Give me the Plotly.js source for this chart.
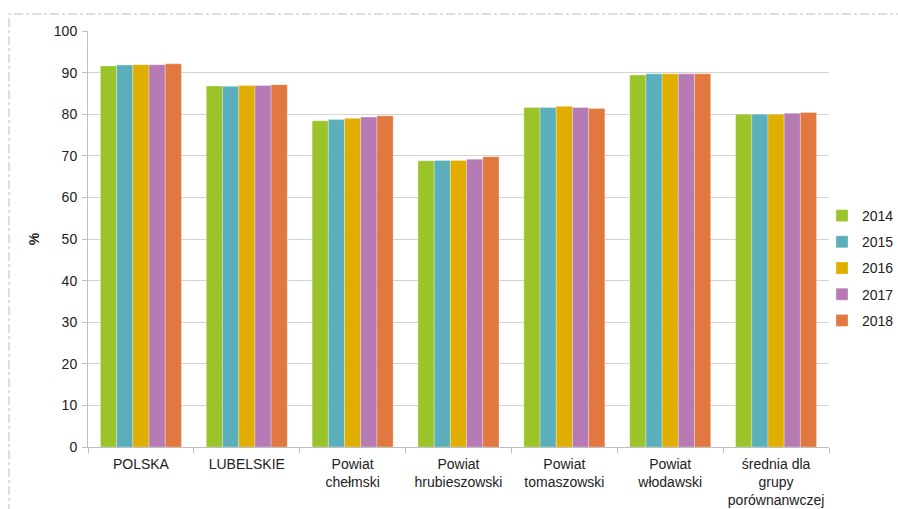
<!DOCTYPE html>
<html>
<head>
<meta charset="utf-8">
<script src="https://cdn.plot.ly/plotly-3.0.1.min.js"></script>
<style>
html,body{margin:0;padding:0;background:#fff;}
#chart{width:898px;height:509px;}
</style>
</head>
<body>
<div id="chart"></div>
<script>
const categories = ["POLSKA", "LUBELSKIE", "Powiat<br>chełmski", "Powiat<br>hrubieszowski", "Powiat<br>tomaszowski", "Powiat<br>włodawski", "średnia dla<br>grupy<br>porównanwczej"];
const years = ["2014", "2015", "2016", "2017", "2018"];
const v2014 = [91.6, 86.8, 78.4, 68.8, 81.6, 89.4, 80.0];
const v2015 = [91.8, 86.7, 78.7, 68.9, 81.6, 89.7, 80.0];
const v2016 = [91.9, 86.9, 79.0, 68.9, 81.9, 89.7, 80.0];
const v2017 = [91.9, 86.9, 79.3, 69.2, 81.6, 89.7, 80.2];
const v2018 = [92.1, 87.1, 79.6, 69.8, 81.4, 89.7, 80.4];
const colors = ["#9BC42A", "#5AAFBA", "#E0AE00", "#B67AB4", "#E07840"];
const yTicks = [0, 10, 20, 30, 40, 50, 60, 70, 80, 90, 100];

const series = [v2014, v2015, v2016, v2017, v2018];
const traces = series.map((vals, i) => ({
  type: "bar",
  name: years[i],
  x: categories,
  y: vals,
  legendgroup: years[i],
  marker: {color: colors[i], line: {color: "rgba(255,255,255,0.5)", width: 0.6}},
  hoverinfo: "x+y+name"
}));

const L = 88, R = 829, T = 31, B = 447;
const W = R - L, H = B - T;

const layout = {
  width: 898, height: 509,
  margin: {l: L, r: 898 - R, t: T, b: 509 - B, autoexpand: false},
  paper_bgcolor: "#ffffff",
  plot_bgcolor: "#ffffff",
  font: {family: "Liberation Sans, Arial, sans-serif", size: 14, color: "#222222"},
  barmode: "group",
  bargap: 0.235,
  bargroupgap: 0,
  showlegend: true,
  legend: {
    x: (822 - L) / W, xanchor: "left",
    y: (B - 200) / H, yanchor: "top",
    font: {size: 14, color: "#222222"},
    traceorder: "grouped",
    tracegroupgap: 5,
    itemwidth: 30,
    bgcolor: "rgba(0,0,0,0)"
  },
  xaxis: {
    type: "category",
    showline: true, linecolor: "#bfbfbf", linewidth: 1,
    ticks: "outside", ticklen: 5, tickcolor: "#bfbfbf",
    tickson: "boundaries",
    ticklabelstandoff: 4,
    showgrid: false,
    tickfont: {size: 14, color: "#222222"},
    automargin: false
  },
  yaxis: {
    range: [0, 100],
    tickvals: yTicks,
    ticktext: yTicks.map(String),
    showline: true, linecolor: "#bfbfbf", linewidth: 1,
    ticks: "outside", ticklen: 5, tickcolor: "#bfbfbf",
    ticklabelstandoff: 2,
    showgrid: true, gridcolor: "#d4d4d4", gridwidth: 1,
    zeroline: false,
    tickfont: {size: 14, color: "#222222"},
    title: {text: "<b>%</b>", font: {size: 14, color: "#222222"}, standoff: 10},
    automargin: false
  },
  shapes: [{
    type: "rect", xref: "paper", yref: "paper",
    x0: (9 - L) / W, x1: (910 - L) / W,
    y0: (B - 530) / H, y1: (B - 14) / H,
    line: {color: "#b8bec4", width: 1, dash: "dashdot"},
    fillcolor: "rgba(0,0,0,0)",
    layer: "below"
  }]
};

Plotly.newPlot("chart", traces, layout, {displayModeBar: false, staticPlot: true});
</script>
</body>
</html>
